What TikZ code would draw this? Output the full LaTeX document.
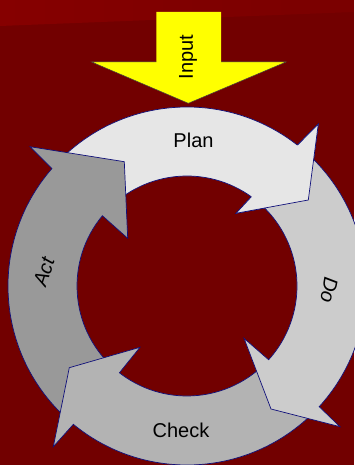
\documentclass[tikz,border=0pt]{standalone}
\usepackage{fontspec}
\setmainfont{Liberation Sans}

\definecolor{bgred}{HTML}{720000}
\definecolor{topred}{HTML}{860000}
\definecolor{ringline}{HTML}{10107A}
\definecolor{planfill}{HTML}{E6E6E6}
\definecolor{dofill}{HTML}{CCCCCC}
\definecolor{checkfill}{HTML}{B3B3B3}
\definecolor{actfill}{HTML}{999999}
\definecolor{inputfill}{HTML}{FFFF00}

\begin{document}
\begin{tikzpicture}[x=1pt,y=1pt,
    ring/.style = {
      draw = ringline,
      line width = 0.7pt,
      line join = miter
    },
    phase/.style = {
      font = \fontsize{20}{24}\selectfont,
      inner sep = 0pt
    }
  ]
  \coordinate (O) at (0,0);

  \useasboundingbox (-187,-179) rectangle (167,286);
  \fill[bgred] (-187,-179) rectangle (167,286);
  \shade[left color=topred, right color=bgred!60!topred] (-187,286) -- (167,286) -- (167,274) -- (-187,260) -- cycle;

  % input arrow
  \fill[inputfill] (-30.7,274) -- (34,274) -- (34,224) -- (99,224) -- (1.3,182.7) -- (-95.3,224) -- (-30.7,224) -- cycle;
  \draw[black!75, line width=0.5pt] (-30.7,224) -- (-95.3,224) -- (1.3,182.7) -- (99,224) -- (34,224);

  % plan
  \path[ring, fill=planfill] (136:179pt) arc[start angle=136, end angle=51.9, radius=179pt]
    -- (131.3,162) -- (121.3,86) -- (49,72.7) -- (54.2:110pt)
    arc[start angle=54.2, end angle=136, radius=110pt] -- cycle;

  % act
  \path[ring, fill=actfill] (227:179pt) arc[start angle=227, end angle=139, radius=179pt]
    -- (-157,139.3) -- (-62.7,124.3) -- (-59.3,47.7) -- (140.3:110pt)
    arc[start angle=140.3, end angle=227, radius=110pt] -- cycle;

  % check
  \path[ring, fill=checkfill] (-46:179pt) arc[start angle=-46, end angle=-129.4, radius=179pt]
    -- (-133.7,-160.7) -- (-117.7,-81.7) -- (-47,-61.3) -- (-127.9:110pt)
    arc[start angle=-127.9, end angle=-46, radius=110pt] -- cycle;

  % do
  \path[ring, fill=dofill] (48:179pt) arc[start angle=48, end angle=-42.4, radius=179pt]
    -- (153,-140.7) -- (84,-123) -- (57,-52.3) -- (-42.1:110pt)
    arc[start angle=-42.1, end angle=48, radius=110pt] -- cycle;

  % plan head again, over the tail of do
  \fill[planfill] (51.9:179pt) -- (131.3,162) -- (121.3,86) -- (49,72.7) -- (54.2:110pt) -- cycle;
  \draw[ring] (51.9:179pt) -- (131.3,162) -- (121.3,86) -- (49,72.7) -- (54.2:110pt);

  \node[phase, rotate=90] (input) at (1,229) {Input};
  \node[phase] (plan) at (6.5,146) {Plan};
  \node[phase, rotate=-100] (do) at (142,-4) {\itshape Do};
  \node[phase] (check) at (-6,-144) {Check};
  \node[phase, rotate=72] (act) at (-143,14) {\itshape Act};
\end{tikzpicture}
\end{document}
